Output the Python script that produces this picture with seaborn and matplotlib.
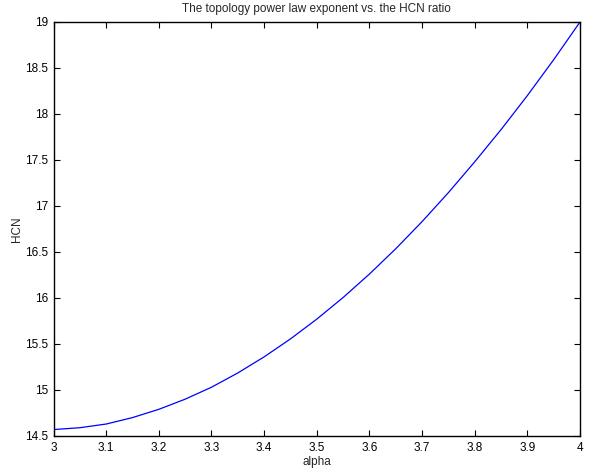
import matplotlib
matplotlib.use("Agg")
import matplotlib.pyplot as plt
import seaborn as sns
import pandas as pd

alpha = [3.0, 3.05, 3.1, 3.15, 3.2, 3.25, 3.3, 3.35, 3.4, 3.45, 3.5,
         3.55, 3.6, 3.65, 3.7, 3.75, 3.8, 3.85, 3.9, 3.95, 4.0]
hcn = [14.57, 14.59, 14.63, 14.70, 14.79, 14.90, 15.03, 15.185, 15.36, 15.555, 15.77,
       16.005, 16.26, 16.535, 16.83, 17.145, 17.48, 17.83, 18.20, 18.59, 19.0]
xticks = [3, 3.1, 3.2, 3.3, 3.4, 3.5, 3.6, 3.7, 3.8, 3.9, 4]
xticklabels = ["3", "3.1", "3.2", "3.3", "3.4", "3.5", "3.6", "3.7", "3.8", "3.9", "4"]
yticks = [14.5, 15, 15.5, 16, 16.5, 17, 17.5, 18, 18.5, 19]
yticklabels = ["14.5", "15", "15.5", "16", "16.5", "17", "17.5", "18", "18.5", "19"]

sns.set_theme(style="white")
plt.rcParams['font.family'] = ['Liberation Sans', 'DejaVu Sans']

df = pd.DataFrame({"alpha": alpha, "HCN": hcn})
fig = plt.figure(figsize=(5.92, 4.72), dpi=100)
ax = fig.add_axes([53.5/592, 36/472, (580-53.5)/592, (436-22)/472])
sns.lineplot(data=df, x="alpha", y="HCN", ax=ax, color="#0000ff", linewidth=0.9)
ax.set_xlim(3, 4)
ax.set_ylim(14.5, 19)
ax.set_xticks(xticks)
ax.set_xticklabels(xticklabels)
ax.set_yticks(yticks)
ax.set_yticklabels(yticklabels)
ax.tick_params(direction="in", length=4, width=0.8, labelsize=8.5, colors="black",
               top=True, right=True, bottom=True, left=True, pad=4)
for s in ax.spines.values():
    s.set_visible(True)
    s.set_color("black")
    s.set_linewidth(1.0)
ax.set_xlabel("alpha", fontsize=8.5, labelpad=2)
ax.set_ylabel("HCN", fontsize=8.5, labelpad=1)
ax.set_title("The topology power law exponent vs. the HCN ratio", fontsize=8.5, pad=7)
fig.savefig("out.png", dpi=100)
